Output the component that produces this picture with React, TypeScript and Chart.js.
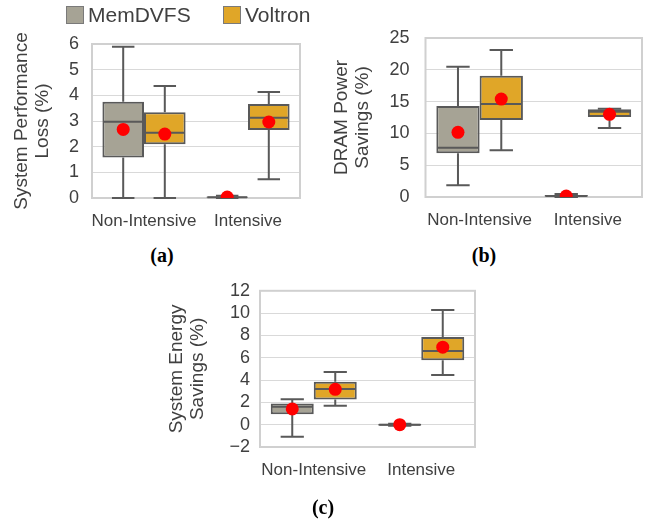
import React, { useEffect, useRef } from "react";
import { Chart, registerables } from "chart.js";

Chart.register(...registerables);

// ---------- data ----------
const categories = ["Non-Intensive", "Intensive"];
const seriesNames = ["MemDVFS", "Voltron"];
// each entry: [min, q1, median, q3, max, mean]
const perfLossMemDVFS = [
  [0, 1.58, 2.97, 3.75, 5.89, 2.67],
  [0, 0.01, 0.03, 0.06, 0.09, 0.04],
];
const perfLossVoltron = [
  [0, 2.09, 2.54, 3.34, 4.36, 2.49],
  [0.73, 2.65, 3.13, 3.66, 4.13, 2.96],
];
const dramMemDVFS = [
  [1.84, 6.87, 7.75, 14.31, 20.49, 10.17],
  [0, 0.05, 0.15, 0.3, 0.47, 0.15],
];
const dramVoltron = [
  [7.34, 12.1, 14.62, 19.07, 23.1, 15.4],
  [10.85, 12.58, 13.42, 13.79, 13.89, 13.0],
];
const energyMemDVFS = [
  [-1.09, 0.93, 1.61, 1.9, 2.29, 1.41],
  [-0.09, -0.09, 0, 0.09, 0.09, 0],
];
const energyVoltron = [
  [1.7, 2.25, 3.19, 3.84, 4.72, 3.17],
  [4.46, 5.78, 6.6, 7.86, 10.27, 6.95],
];
const perfTicks = [0, 1, 2, 3, 4, 5, 6];
const dramTicks = [0, 5, 10, 15, 20, 25];
const energyTicks = [-2, 0, 2, 4, 6, 8, 10, 12];

// ---------- style ----------
const GRAY = "#a6a395";
const ORANGE = "#e0a628";
const DARK = "#595959";
const TEXT = "#404040";
const GRID = "#d9d9d9";
const FRAME = "#d0d0d0";
const FONT = "'Liberation Sans', Arial, sans-serif";

const boxPlugin = {
  id: "boxWhisker",
  beforeDatasetsDraw(chart: any) {
    const ctx = chart.ctx;
    const a = chart.chartArea;
    ctx.save();
    ctx.strokeStyle = FRAME;
    ctx.lineWidth = 2;
    ctx.strokeRect(a.left, a.top, a.right - a.left, a.bottom - a.top);
    ctx.restore();
    const ys = chart.scales.y;
    chart.data.datasets.forEach((ds: any, di: number) => {
      const meta = chart.getDatasetMeta(di);
      meta.data.forEach((bar: any, i: number) => {
        const s = ds.stats[i];
        const { x, width } = bar.getProps(["x", "width"], true);
        const cap = width * 0.27;
        ctx.save();
        ctx.strokeStyle = DARK;
        ctx.lineWidth = 2;
        ctx.beginPath();
        const pMin = ys.getPixelForValue(s[0]);
        const pQ1 = ys.getPixelForValue(s[1]);
        const pQ3 = ys.getPixelForValue(s[3]);
        const pMax = ys.getPixelForValue(s[4]);
        ctx.moveTo(x, pQ3);
        ctx.lineTo(x, pMax);
        ctx.moveTo(x - cap, pMax);
        ctx.lineTo(x + cap, pMax);
        ctx.moveTo(x, pQ1);
        ctx.lineTo(x, pMin);
        ctx.moveTo(x - cap, pMin);
        ctx.lineTo(x + cap, pMin);
        ctx.stroke();
        ctx.restore();
      });
    });
  },
  afterDatasetsDraw(chart: any) {
    const ctx = chart.ctx;
    const a = chart.chartArea;
    const ys = chart.scales.y;
    chart.data.datasets.forEach((ds: any, di: number) => {
      const meta = chart.getDatasetMeta(di);
      meta.data.forEach((bar: any, i: number) => {
        const s = ds.stats[i];
        const { x, width } = bar.getProps(["x", "width"], true);
        ctx.save();
        ctx.strokeStyle = DARK;
        ctx.lineWidth = 2;
        ctx.beginPath();
        const pMed = ys.getPixelForValue(s[2]);
        ctx.moveTo(x - width / 2 + 1, pMed);
        ctx.lineTo(x + width / 2 - 1, pMed);
        ctx.stroke();
        ctx.beginPath();
        ctx.rect(a.left, a.top, a.right - a.left, a.bottom - a.top);
        ctx.clip();
        ctx.fillStyle = "#ff0000";
        ctx.beginPath();
        ctx.arc(x, ys.getPixelForValue(s[5]), 6.5, 0, Math.PI * 2);
        ctx.fill();
        ctx.restore();
      });
    });
  },
};

type Panel = {
  left: number;
  top: number;
  width: number;
  height: number;
  title: string[];
  ticks: number[];
  mem: number[][];
  volt: number[][];
  yWidth: number;
  pad: { top: number; right: number; bottom: number };
  titlePad: number;
  tickPad: number;
};

const panels: Panel[] = [
  {
    left: 0, top: 0, width: 320, height: 240,
    title: ["System Performance", "Loss (%)"],
    ticks: perfTicks, mem: perfLossMemDVFS, volt: perfLossVoltron,
    yWidth: 92, pad: { top: 44, right: 20, bottom: 12 }, titlePad: 11, tickPad: 13,
  },
  {
    left: 320, top: 0, width: 326, height: 240,
    title: ["DRAM Power", "Savings (%)"],
    ticks: dramTicks, mem: dramMemDVFS, volt: dramVoltron,
    yWidth: 105.5, pad: { top: 38, right: 4, bottom: 13 }, titlePad: 11, tickPad: 16,
  },
  {
    left: 160, top: 270, width: 330, height: 230,
    title: ["System Energy", "Savings (%)"],
    ticks: energyTicks, mem: energyMemDVFS, volt: energyVoltron,
    yWidth: 100, pad: { top: 18, right: 15, bottom: 23 }, titlePad: 6, tickPad: 10,
  },
];

function makeConfig(p: Panel): any {
  const mk = (label: string, stats: number[][], color: string) => ({
    label,
    data: stats.map((s) => [s[1], s[3]]),
    stats,
    backgroundColor: color,
    borderColor: DARK,
    borderWidth: 2,
    borderSkipped: false,
    categoryPercentage: 0.8,
    barPercentage: 1.0,
  });
  return {
    type: "bar",
    data: {
      labels: categories,
      datasets: [mk(seriesNames[0], p.mem, GRAY), mk(seriesNames[1], p.volt, ORANGE)],
    },
    options: {
      responsive: false,
      animation: false,
      devicePixelRatio: 1,
      layout: { padding: { left: 0, top: p.pad.top, right: p.pad.right, bottom: p.pad.bottom } },
      plugins: { legend: { display: false }, tooltip: { enabled: false } },
      scales: {
        x: {
          type: "category",
          grid: { display: false, drawTicks: false },
          border: { display: false },
          ticks: {
            font: { family: FONT, size: 17 },
            color: TEXT,
            padding: 13.5,
            maxRotation: 0,
            minRotation: 0,
            autoSkip: false,
          },
          afterFit: (s: any) => { s.height = 30; },
        },
        y: {
          min: p.ticks[0],
          max: p.ticks[p.ticks.length - 1],
          afterBuildTicks: (s: any) => { s.ticks = p.ticks.map((v) => ({ value: v })); },
          grid: { color: GRID, lineWidth: 1, drawTicks: false },
          border: { display: false },
          ticks: {
            font: { family: FONT, size: 18 },
            color: TEXT,
            padding: p.tickPad,
            autoSkip: false,
            callback: (v: any) => String(v).replace("-", "\u2212"),
          },
          title: {
            display: true,
            text: p.title,
            font: { family: FONT, size: 19, lineHeight: 1.13 },
            color: TEXT,
            padding: { top: p.titlePad, bottom: 0 },
          },
          afterFit: (s: any) => { s.width = p.yWidth; },
        },
      },
    },
    plugins: [boxPlugin],
  };
}

function ChartCanvas({ p }: { p: Panel }) {
  const ref = useRef<HTMLCanvasElement | null>(null);
  useEffect(() => {
    if (!ref.current) return;
    const chart = new Chart(ref.current, makeConfig(p));
    return () => chart.destroy();
  }, [p]);
  return (
    <canvas
      ref={ref}
      width={p.width}
      height={p.height}
      style={{ position: "absolute", left: p.left, top: p.top, width: p.width, height: p.height }}
    />
  );
}

const labelStyle = (cx: number, cy: number): React.CSSProperties => ({
  position: "absolute",
  left: cx - 30,
  top: cy - 12,
  width: 60,
  height: 24,
  lineHeight: "24px",
  textAlign: "center",
  fontFamily: "'Liberation Serif', 'Times New Roman', serif",
  fontWeight: "bold",
  fontSize: 20,
  color: "#000",
});

export default function App() {
  const swatch = (left: number, color: string): React.CSSProperties => ({
    position: "absolute",
    left,
    top: 6,
    width: 18,
    height: 18,
    boxSizing: "border-box",
    border: "1.5px solid #7a7a7a",
    background: color,
  });
  const legText = (left: number): React.CSSProperties => ({
    position: "absolute",
    left,
    top: 3,
    height: 24,
    lineHeight: "24px",
    fontFamily: FONT,
    fontSize: 21,
    color: TEXT,
    whiteSpace: "nowrap",
  });
  return (
    <div style={{ position: "absolute", left: 0, top: 0, width: 646, height: 521, background: "#fff", overflow: "hidden" }}>
      {panels.map((p, i) => (
        <ChartCanvas key={i} p={p} />
      ))}
      <div style={swatch(66, GRAY)} />
      <div style={legText(88)}>{seriesNames[0]}</div>
      <div style={swatch(223, ORANGE)} />
      <div style={legText(245)}>{seriesNames[1]}</div>
      <div style={labelStyle(162, 255)}>(a)</div>
      <div style={labelStyle(484, 255)}>(b)</div>
      <div style={labelStyle(323, 507)}>(c)</div>
    </div>
  );
}
